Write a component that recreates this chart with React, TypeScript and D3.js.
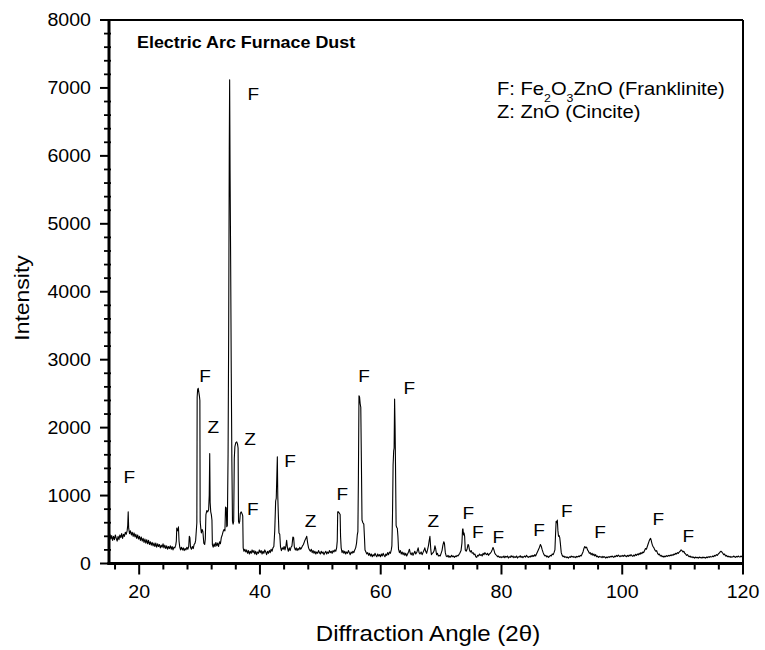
import React from "react";
import * as d3 from "d3";

// ---------- data (2θ in degrees, intensity in counts) ----------
const patternA: [number, number][] = [
  [15.0,390],[15.15,430],[15.3,360],[15.45,410],[15.6,340],[15.75,400],[15.9,350],[16.05,420],[16.2,370],[16.35,330],
  [16.5,400],[16.65,350],[16.8,420],[16.95,380],[17.1,440],[17.25,370],[17.4,430],[17.55,400],[17.7,460],[17.85,430],
  [18.0,480],[18.1,560],[18.18,760],[18.26,520],[18.4,440],[18.55,480],[18.7,420],[18.85,460],[19.0,400],[19.15,450],
  [19.3,390],[19.45,430],[19.6,370],[19.75,420],[19.9,360],[20.05,400],[20.2,340],[20.35,390],[20.5,330],[20.65,370],
  [20.8,310],[20.95,360],[21.1,300],[21.25,350],[21.4,290],[21.55,340],[21.7,280],[21.85,320],[22.0,270],[22.15,310],
  [22.3,260],[22.45,300],[22.6,250],[22.75,300],[22.9,240],[23.05,290],[23.2,250],[23.35,280],[23.5,230],[23.65,270],
  [23.8,240],[23.95,290],[24.1,230],[24.25,270],[24.4,220],[24.55,260],[24.7,210],[24.85,250],[25.0,220],[25.15,260],
  [25.3,210],[25.45,250],[25.6,200],[25.75,240],[25.9,230],[26.05,270],[26.15,330],[26.22,520],[26.32,480],[26.42,500],
  [26.5,540],[26.6,330],[26.72,240],[26.85,200],[27.0,240],[27.15,200],[27.3,230],[27.45,190],[27.6,220],[27.75,200],
  [27.9,240],[28.05,210],[28.2,250],[28.3,400],[28.4,380],[28.5,240],[28.65,210],[28.8,250],[28.95,220],[29.1,280],
  [29.25,300],[29.35,340],[29.45,470],
];

const patternB: [number, number][] = [
  [29.55,600],[29.6,2450],[29.68,2560],[29.78,2580],[29.88,2520],[29.98,2460],[30.05,2400],[30.1,620],[30.2,520],[30.3,450],
  [30.42,500],[30.55,470],[30.7,300],[30.85,280],[30.95,360],[31.05,720],[31.2,780],[31.35,760],[31.5,790],[31.6,1000],
  [31.68,1620],[31.75,900],[31.85,760],[31.95,720],[32.05,640],[32.12,280],[32.25,240],[32.4,290],[32.55,250],[32.7,310],
  [32.85,260],[33.0,300],[33.15,250],[33.3,320],[33.45,290],[33.6,380],[33.75,420],[33.9,470],[34.05,500],[34.2,480],
  [34.3,830],[34.42,820],[34.5,540],[34.6,560],[34.72,1600],[34.82,3400],[34.92,6100],[34.98,7120],[35.05,5800],[35.15,4400],
  [35.25,2800],[35.35,1500],[35.45,620],[35.55,580],[35.65,620],[35.75,1550],[35.85,1720],[36.0,1780],[36.15,1790],[36.28,1760],
  [36.38,1700],[36.45,620],[36.55,590],[36.65,620],[36.75,740],[36.9,760],[37.05,730],[37.15,700],[37.22,230],[37.35,180],
  [37.5,210],
];

const patternC: [number, number][] = [
  [37.65,170],[37.8,200],[37.95,150],[38.1,190],[38.25,140],[38.4,180],[38.55,150],[38.7,200],[38.85,160],[39.0,190],
  [39.15,140],[39.3,180],[39.45,130],[39.6,170],[39.75,150],[39.9,200],[40.05,160],[40.2,190],[40.35,140],[40.5,180],
  [40.65,150],[40.8,200],[40.95,170],[41.1,130],[41.25,180],[41.4,150],[41.55,190],[41.7,160],[41.85,210],[42.0,180],
  [42.15,230],[42.3,250],[42.45,480],[42.6,920],[42.7,960],[42.8,1300],[42.88,1570],[42.95,1000],[43.05,700],[43.15,450],
  [43.28,430],[43.4,250],[43.55,190],[43.7,230],[43.85,210],[44.0,250],[44.15,200],[44.3,260],[44.42,340],[44.55,230],
  [44.7,180],[44.85,230],[45.0,190],[45.15,240],[45.3,260],[45.45,390],[45.58,380],[45.7,240],[45.85,200],[46.0,230],
  [46.15,190],[46.3,220],[46.45,200],[46.6,240],[46.75,210],[46.9,230],[47.05,260],[47.2,280],[47.4,330],[47.6,370],
  [47.75,400],[47.9,300],[48.05,230],[48.2,200],[48.35,180],[48.5,210],[48.65,160],[48.8,190],[48.95,150],[49.1,180],
  [49.25,140],[49.4,170],[49.55,150],[49.7,190],[49.85,160],[50.0,140],[50.15,180],[50.3,150],[50.45,170],[50.6,130],
  [50.75,160],[50.9,180],[51.05,140],[51.2,170],[51.35,150],[51.5,190],[51.65,160],[51.8,180],[51.95,150],[52.1,190],
  [52.25,170],[52.4,200],[52.55,180],[52.7,230],[52.8,330],[52.88,760],[53.0,760],[53.15,740],[53.28,720],[53.35,400],
  [53.45,230],[53.6,160],[53.75,190],[53.9,150],[54.05,180],[54.2,140],[54.35,170],[54.5,150],[54.65,190],[54.8,160],
  [54.95,130],[55.1,170],[55.25,150],[55.4,180],[55.55,160],[55.7,200],[55.85,230],[56.0,300],[56.12,420],[56.22,470],
  [56.3,1200],[56.4,2470],[56.5,2450],[56.6,2350],[56.7,2300],[56.8,1500],[56.9,640],[57.05,600],[57.2,580],[57.3,400],
  [57.4,200],[57.55,170],[57.7,140],[57.85,160],
];

const patternD: [number, number][] = [
  [58.0,120],[58.15,150],[58.3,110],[58.45,140],[58.6,100],[58.75,130],[58.9,110],[59.05,150],[59.2,120],[59.35,100],
  [59.5,140],[59.65,110],[59.8,130],[59.95,100],[60.1,140],[60.25,110],[60.4,150],[60.55,120],[60.7,100],[60.85,140],
  [61.0,120],[61.15,160],[61.3,130],[61.45,170],[61.6,150],[61.75,200],[61.85,260],[61.95,700],[62.05,1450],[62.15,1660],
  [62.22,1700],[62.3,2420],[62.38,2000],[62.45,1450],[62.55,560],[62.65,530],[62.75,520],[62.85,400],[62.95,210],[63.1,160],
  [63.25,190],[63.4,140],[63.55,170],[63.7,130],[63.85,160],[64.0,120],[64.15,150],[64.3,110],[64.45,140],[64.6,170],
  [64.75,210],[64.9,150],[65.05,130],[65.2,160],[65.35,120],[65.5,150],[65.65,180],[65.8,140],[66.0,170],[66.2,230],
  [66.35,160],[66.5,140],[66.7,170],[66.85,130],[67.0,160],[67.15,190],[67.3,230],[67.45,180],[67.6,150],[67.75,200],
  [67.9,260],[68.05,350],[68.15,400],[68.3,200],[68.4,130],[68.55,150],[68.7,160],[68.85,190],[68.98,260],[69.1,220],
  [69.25,130],[69.4,150],[69.55,110],[69.7,120],[69.85,110],[70.0,150],[70.15,190],[70.3,270],[70.45,320],[70.55,300],
  [70.7,160],[70.85,110],[71.0,100],[71.15,120],[71.3,90],[71.45,110],[71.6,95],[71.75,120],[71.9,100],[72.05,110],
  [72.2,90],[72.35,110],[72.5,100],[72.65,120],[72.8,110],[72.95,130],[73.1,150],[73.3,190],[73.45,300],[73.55,500],
  [73.62,510],[73.72,420],[73.8,450],[73.9,400],[74.0,200],[74.15,180],[74.3,210],[74.45,280],[74.55,270],[74.7,200],
  [74.85,170],[75.0,190],[75.15,150],[75.3,160],[75.45,130],[75.6,140],[75.75,100],[75.9,90],[76.05,120],[76.2,110],
  [76.35,140],[76.5,120],[76.65,130],[76.8,110],[76.95,150],[77.1,130],[77.25,160],[77.4,140],[77.55,130],[77.7,150],
  [77.85,120],[78.0,140],[78.15,150],[78.3,170],[78.45,200],[78.6,235],[78.75,200],[78.9,150],[79.05,130],[79.2,120],
  [79.35,100],[79.5,110],[79.65,90],[79.8,100],[79.95,85],
];

const patternE: [number, number][] = [
  [80.1,100],[80.25,90],[80.4,110],[80.55,85],[80.7,105],[80.85,95],[81.0,110],[81.15,80],[81.3,100],[81.45,90],
  [81.6,115],[81.75,95],[81.9,110],[82.05,85],[82.2,100],[82.35,90],[82.5,110],[82.65,80],[82.8,100],[82.95,95],
  [83.1,115],[83.25,90],[83.4,105],[83.55,85],[83.7,100],[83.85,110],[84.0,95],[84.15,120],[84.3,100],[84.45,90],
  [84.6,105],[84.75,95],[84.9,115],[85.05,100],[85.2,120],[85.35,105],[85.5,130],[85.65,110],[85.8,140],[85.95,170],
  [86.1,200],[86.3,240],[86.45,280],[86.6,250],[86.75,200],[86.9,160],[87.05,130],[87.2,110],[87.35,120],[87.5,95],
  [87.65,110],[87.8,90],[87.95,105],[88.1,120],[88.25,110],[88.4,140],[88.55,130],[88.7,160],[88.85,200],[88.95,420],
  [89.05,620],[89.15,600],[89.25,640],[89.35,480],[89.45,400],[89.55,410],[89.65,380],[89.75,300],[89.9,160],[90.05,120],
  [90.2,100],[90.35,110],[90.5,90],[90.65,100],[90.8,85],[90.95,95],[91.1,80],[91.25,100],[91.4,90],[91.55,110],
  [91.7,95],[91.85,105],[92.0,90],[92.15,100],[92.3,85],[92.45,105],[92.6,95],[92.75,110],[92.9,100],[93.05,120],
  [93.2,110],[93.35,140],[93.5,170],[93.65,220],[93.8,250],[93.95,230],[94.1,240],[94.25,200],[94.4,180],[94.55,150],
  [94.7,160],[94.85,130],[95.0,150],[95.15,120],[95.3,140],[95.45,110],[95.6,130],[95.75,100],[95.9,110],[96.05,90],
  [96.2,105],[96.35,95],[96.5,100],[96.65,85],[96.8,105],[96.95,90],[97.1,100],[97.25,80],[97.4,95],[97.55,85],
  [97.7,100],[97.85,90],[98.0,105],[98.15,95],[98.3,110],[98.45,100],[98.6,90],[98.75,110],[98.9,100],[99.05,120],
  [99.2,105],[99.35,125],[99.5,110],[99.65,100],[99.8,115],[99.95,105],[100.1,120],[100.25,105],[100.4,125],[100.55,110],
  [100.7,100],[100.85,120],[101.0,105],[101.15,125],[101.3,110],[101.45,130],[101.6,115],[101.75,105],[101.9,125],[102.05,110],
  [102.2,135],[102.35,120],[102.5,140],[102.65,125],[102.8,150],[102.95,135],[103.1,160],[103.25,145],[103.4,170],[103.55,160],
  [103.7,190],[103.85,220],[104.0,210],[104.15,250],[104.3,290],[104.45,330],[104.6,360],[104.7,370],[104.8,340],[104.9,300],
  [105.0,270],[105.1,250],[105.25,230],[105.4,200],[105.55,180],[105.7,190],[105.85,150],[106.0,130],[106.15,140],[106.3,110],
  [106.45,120],[106.6,100],[106.75,110],[106.9,95],[107.05,110],[107.2,100],[107.35,115],[107.5,105],[107.65,120],[107.8,110],
  [107.95,125],[108.1,115],[108.25,130],[108.4,120],[108.55,140],[108.7,130],[108.85,150],[109.0,140],[109.15,160],[109.3,150],
  [109.45,170],[109.6,180],[109.75,200],[109.9,190],[110.05,170],[110.2,180],[110.35,150],[110.5,140],[110.65,120],[110.8,130],
  [110.95,110],[111.1,100],[111.25,110],[111.4,90],[111.55,100],[111.7,85],[111.85,95],[112.0,80],[112.15,95],[112.3,85],
  [112.45,90],[112.6,80],[112.75,95],[112.9,85],[113.05,90],[113.2,80],[113.35,95],[113.5,85],[113.65,90],[113.8,80],
  [113.95,95],[114.1,85],[114.25,100],[114.4,90],[114.55,105],[114.7,95],[114.85,100],[115.0,110],[115.15,100],[115.3,120],
  [115.45,110],[115.6,130],[115.75,120],[115.9,140],[116.05,150],[116.2,170],[116.35,180],[116.5,170],[116.65,150],[116.8,130],
  [116.95,140],[117.1,110],[117.25,120],[117.4,100],[117.55,110],[117.7,95],[117.85,105],[118.0,90],[118.15,100],[118.3,95],
  [118.45,110],[118.6,100],[118.75,90],[118.9,105],[119.05,95],[119.2,110],[119.35,100],[119.5,95],[119.65,110],[119.8,100],
  [120.0,105],
];

// phase markers: [phase, 2θ, intensity] of the label centre
const peakLabels: [string, number, number][] = [
  ["F", 18.36, 1269], ["F", 30.9, 2765], ["Z", 32.27, 2004], ["F", 38.9, 6907], ["Z", 38.35, 1834],
  ["F", 44.98, 1515], ["F", 38.8, 804], ["Z", 48.4, 632], ["F", 53.64, 1025], ["F", 57.23, 2765],
  ["F", 64.73, 2584], ["Z", 68.71, 622], ["F", 74.5, 740], ["F", 76.06, 460], ["F", 79.48, 387],
  ["F", 86.22, 496], ["F", 90.8, 769], ["F", 96.32, 460], ["F", 105.97, 657], ["F", 110.94, 401],
];

const xDomain: [number, number] = [15, 120];
const yDomain: [number, number] = [0, 8000];
const xTickLabels = [20, 40, 60, 80, 100, 120];
const yTickLabels = [0, 1000, 2000, 3000, 4000, 5000, 6000, 7000, 8000];
const xMinorStep = 4;
const yMinorStep = 200;

const chartTitle = "Electric Arc Furnace Dust";
const xTitle = "Diffraction Angle (2θ)";
const yTitle = "Intensity";

// ---------- layout ----------
const W = 765, H = 650;
const L = 109, R = 743, T = 20, B = 563.5;
const FONT = "'Liberation Sans', Arial, Helvetica, sans-serif";
const SX = 1.12; // horizontal stretch of the scanned lettering

function Txt(props: {
  x: number; y: number; size: number; anchor?: string; weight?: string; rotate?: number; children: React.ReactNode;
}) {
  const { x, y, size, anchor = "start", weight = "normal", rotate, children } = props;
  const tf = `translate(${x},${y})${rotate ? ` rotate(${rotate})` : ""} scale(${SX},1)`;
  return (
    <text transform={tf} fontSize={size} fontWeight={weight} textAnchor={anchor} fontFamily={FONT} fill="#000">
      {children}
    </text>
  );
}

export default function App() {
  const x = d3.scaleLinear().domain(xDomain).range([L, R]);
  const y = d3.scaleLinear().domain(yDomain).range([B, T]);
  const data = [...patternA, ...patternB, ...patternC, ...patternD, ...patternE];
  const line = d3.line<[number, number]>().x((d) => x(d[0])).y((d) => y(d[1]));

  const xMinor = d3.range(16, 120.01, xMinorStep).filter((v) => !xTickLabels.includes(v));
  const yMinor = d3.range(0, 8000.01, yMinorStep).filter((v) => !yTickLabels.includes(v));

  return (
    <svg width={W} height={H} style={{ position: "absolute", left: 0, top: 0, background: "#fff" }}>
      <rect x={0} y={0} width={W} height={H} fill="#fff" />
      {/* trace */}
      <path d={line(data) || ""} fill="none" stroke="#000" strokeWidth={1.1} strokeLinejoin="round" />

      {/* frame */}
      <line x1={L} x2={R} y1={T} y2={T} stroke="#000" strokeWidth={2} />
      <line x1={R} x2={R} y1={T} y2={B} stroke="#000" strokeWidth={2} />
      <line x1={L} x2={L} y1={T - 1} y2={B + 1.5} stroke="#000" strokeWidth={3} />
      <line x1={L - 1.5} x2={R + 1} y1={B} y2={B} stroke="#000" strokeWidth={3} />

      {/* y ticks */}
      {yMinor.map((v) => (
        <line key={"ym" + v} x1={L - 5} x2={L + 2} y1={y(v)} y2={y(v)} stroke="#000" strokeWidth={1.8} />
      ))}
      {yTickLabels.map((v) => (
        <g key={"yt" + v}>
          <line x1={L - 9} x2={L} y1={y(v)} y2={y(v)} stroke="#000" strokeWidth={2} />
          <Txt x={L - 18} y={y(v) + 6.3} size={17.5} anchor="end">{String(v)}</Txt>
        </g>
      ))}

      {/* x ticks */}
      {xMinor.map((v) => (
        <line key={"xm" + v} x1={x(v)} x2={x(v)} y1={B} y2={B + 6} stroke="#000" strokeWidth={2} />
      ))}
      {xTickLabels.map((v) => (
        <g key={"xt" + v}>
          <line x1={x(v)} x2={x(v)} y1={B} y2={B + 11} stroke="#000" strokeWidth={2} />
          <Txt x={x(v)} y={598} size={17.5} anchor="middle">{String(v)}</Txt>
        </g>
      ))}

      {/* axis titles */}
      <Txt x={428} y={641} size={21.5} anchor="middle">{xTitle}</Txt>
      <Txt x={29} y={298} size={20.5} anchor="middle" rotate={-90}>{yTitle}</Txt>

      {/* chart title */}
      <Txt x={137} y={48} size={16} weight="bold">{chartTitle}</Txt>

      {/* legend */}
      <Txt x={497} y={95} size={18}>
        F: Fe<tspan fontSize={11} dy={7}>2</tspan><tspan dy={-7}>O</tspan>
        <tspan fontSize={11} dy={7}>3</tspan><tspan dy={-7}>ZnO (Franklinite)</tspan>
      </Txt>
      <Txt x={497} y={118} size={18}>Z: ZnO (Cincite)</Txt>

      {/* phase labels */}
      {peakLabels.map(([p, a, v], i) => (
        <Txt key={"pl" + i} x={x(a)} y={y(v) + 6} size={17} anchor="middle">{p}</Txt>
      ))}
    </svg>
  );
}
